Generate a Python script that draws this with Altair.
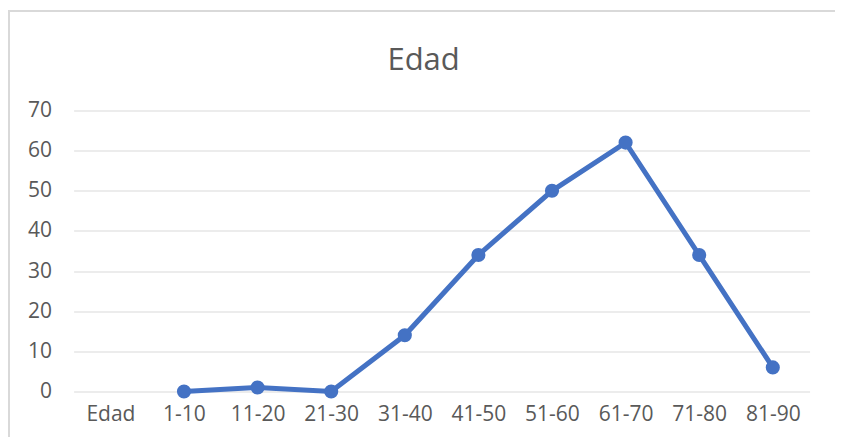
import altair as alt
import pandas as pd

categories = ["Edad", "1-10", "11-20", "21-30", "31-40", "41-50", "51-60", "61-70", "71-80", "81-90"]
bins = ["1-10", "11-20", "21-30", "31-40", "41-50", "51-60", "61-70", "71-80", "81-90"]
values = [0, 1, 0, 14, 34, 50, 62, 34, 6]
y_ticks = [0, 10, 20, 30, 40, 50, 60, 70]

df = pd.DataFrame({"cat": bins, "val": values})

FONT = "Open Sans"
GREY = "#595959"
BLUE = "#4472C4"

x_enc = alt.X("cat:N", sort=categories,
              scale=alt.Scale(domain=categories, type="point", padding=0.5),
              axis=alt.Axis(title=None, labelAngle=0, domain=False, ticks=False, grid=False,
                            labelFont=FONT, labelFontSize=21, labelColor=GREY, labelPadding=12))
y_enc = alt.Y("val:Q", scale=alt.Scale(domain=[0, 70], nice=False, zero=True),
              axis=alt.Axis(title=None, values=y_ticks, domain=False, ticks=False,
                            gridColor="#d9d9d9", gridWidth=1.2,
                            labelFont=FONT, labelFontSize=21, labelColor=GREY, labelPadding=22))

border = alt.Chart(df).mark_rect(fill=None, stroke="#d9d9d9", strokeWidth=1.5, clip=False).encode(
    x=alt.value(-64.6), x2=alt.value(763.4), y=alt.value(-99.5), y2=alt.value(360)
)

line = alt.Chart(df).mark_line(color=BLUE, strokeWidth=5).encode(x=x_enc, y=y_enc)
pts = alt.Chart(df).mark_circle(color=BLUE, size=200, opacity=1).encode(x=x_enc, y=y_enc)

chart = alt.layer(border, line, pts).properties(
    width=736, height=281,
    title=alt.TitleParams("Edad", font=FONT, fontSize=31, fontWeight="normal", color=GREY,
                          baseline="alphabetic", offset=-91, dx=-18, anchor="middle", frame="group"),
    autosize=alt.AutoSizeParams(type="none"),
    padding={"left": 65.6, "top": 102.5, "right": 25, "bottom": 45},
).configure_view(stroke=None)

chart.save("out.html", embed_options={"renderer": "svg", "actions": False})
